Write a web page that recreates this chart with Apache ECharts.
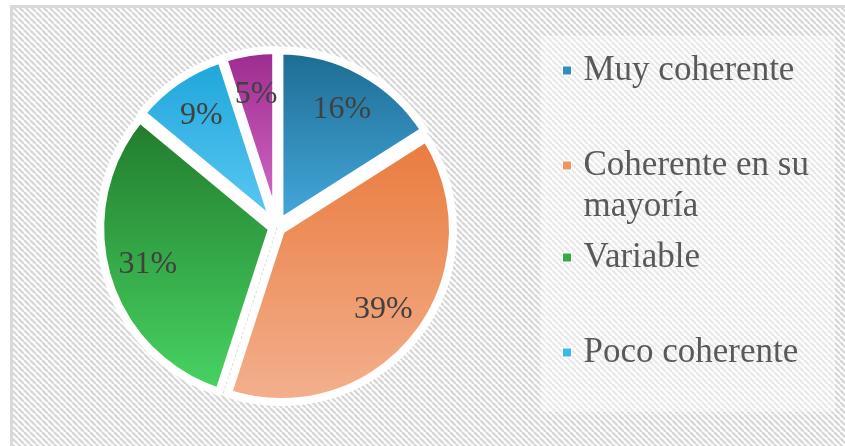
<!DOCTYPE html>
<html>
<head>
<meta charset="utf-8">
<script src="https://cdn.jsdelivr.net/npm/echarts@6/dist/echarts.min.js"></script>
<style>
html,body{margin:0;padding:0;background:#fff;}
#chart{width:845px;height:446px;}
</style>
</head>
<body>
<div id="chart"></div>
<script>
const categories = ['Muy coherente', 'Coherente en su mayoría', 'Variable', 'Poco coherente', 'Nada coherente'];
const values = [16, 39, 31, 9, 5];
const legendNames = ['Muy coherente', 'Coherente en su mayoría', 'Variable', 'Poco coherente'];
const legendLabels = ['Muy coherente', 'Coherente en su\nmayoría', 'Variable', 'Poco coherente'];
const gradTop = ['#1d6a90', '#ea7a3c', '#217a2c', '#1ca5db', '#9c2a8e'];
const gradBottom = ['#45aade', '#f3b190', '#48d563', '#5ec9f3', '#d66ecb'];
const iconColors = ['#2f8fbf', '#ef955f', '#35a847', '#3bb6e7', '#b848a8'];

const tile = document.createElement('canvas');
tile.width = 6; tile.height = 6;
const g = tile.getContext('2d');
g.fillStyle = '#ffffff'; g.fillRect(0, 0, 6, 6);
g.strokeStyle = '#d8d8d8'; g.lineWidth = 2.4;
for (const k of [-6, 0, 6]) { g.beginPath(); g.moveTo(k, 0); g.lineTo(k + 6, 6); g.stroke(); }

const grad = i => ({type: 'linear', x: 0, y: 0, x2: 0, y2: 1,
  colorStops: [{offset: 0, color: gradTop[i]}, {offset: 1, color: gradBottom[i]}]});

const pieData = categories.map((n, i) => ({name: n, value: values[i], selected: true, itemStyle: {color: grad(i)}}));
const labelData = categories.map((n, i) => ({name: n, value: values[i], selected: true}));

const center = [277, 227];
const R = 172;
const serif = '"Liberation Serif", "DejaVu Serif", serif';

const squareIcon = 'path://M0,0L9,0L9,9L0,9Z';
const tallIcon = 'path://M0,0L9,0L9,9L0,9Z M0,50L0.01,50';
const legendTops = [45, 140, 232, 327];

const legends = legendNames.map((n, i) => ({
  left: 557, top: legendTops[i], orient: 'vertical',
  itemWidth: 9, itemHeight: i === 1 ? 50 : 9,
  selectedMode: false,
  data: [{name: n, icon: i === 1 ? tallIcon : squareIcon, itemStyle: {color: iconColors[i], borderColor: '#fff', borderWidth: 1}}],
  formatter: () => legendLabels[i],
  textStyle: {fontFamily: serif, fontSize: 35, color: '#595959', lineHeight: 41, padding: [0, 0, 0, 7]}
}));

const chart = echarts.init(document.getElementById('chart'), null, {renderer: 'canvas'});
chart.setOption({
  animation: false,
  backgroundColor: '#ffffff',
  graphic: [
    {type: 'rect', z: 0, shape: {x: 11.5, y: 6.5, width: 860, height: 460},
     style: {fill: {image: tile, repeat: 'repeat'}, stroke: '#d9d9d9', lineWidth: 3}},
    {type: 'rect', z: 1, shape: {x: 541, y: 36, width: 294, height: 376},
     style: {fill: 'rgba(255,255,255,0.45)'}}
  ],
  legend: legends,
  series: [
    {
      type: 'pie', center: center, radius: [0, R], startAngle: 90, clockwise: true,
      selectedMode: 'multiple', selectedOffset: 5, silent: true,
      itemStyle: {borderColor: '#ffffff', borderWidth: 8},
      label: {show: false}, labelLine: {show: false},
      emphasis: {disabled: true},
      data: pieData
    },
    {
      type: 'pie', center: center, radius: [R * 0.47, R], startAngle: 90, clockwise: true,
      selectedMode: 'multiple', selectedOffset: 5, silent: true,
      itemStyle: {color: 'rgba(0,0,0,0)', borderWidth: 0},
      label: {show: true, position: 'inside', formatter: '{c}%', fontFamily: serif, fontSize: 32, color: '#404040'},
      labelLine: {show: false},
      emphasis: {disabled: true},
      data: labelData
    }
  ]
});
</script>
</body>
</html>
